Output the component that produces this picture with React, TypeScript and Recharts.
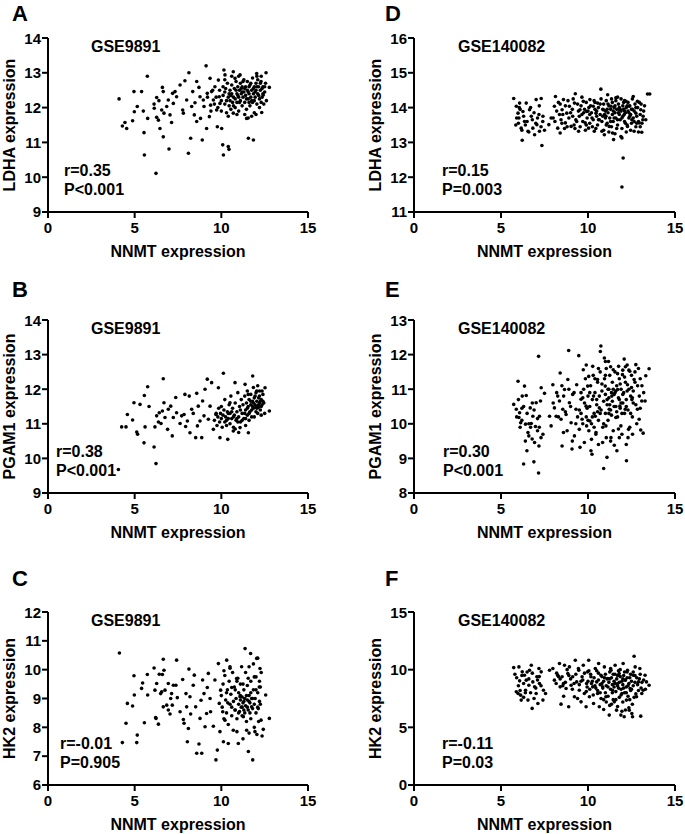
import { ScatterChart, Scatter, XAxis, YAxis } from 'recharts'

// NNMT (x) vs target gene (y)
const ldhaGSE9891: [number, number][] = [
  [4.1, 12.25], [4.29, 11.47], [4.44, 11.57], [4.54, 11.4], [4.88, 11.62], [4.96, 12.46], [4.98, 11.88], [5.15, 12.03],
  [5.4, 12.46], [5.54, 11.28], [5.56, 10.64], [5.5, 11.9], [5.73, 12.9], [5.75, 11.69], [6.12, 12.1], [6.13, 11.98],
  [6.23, 10.11], [6.27, 12.29], [6.27, 11.72], [6.4, 12.2], [6.37, 11.64], [6.46, 11.4], [6.6, 12.58], [6.65, 12.46],
  [6.65, 11.16], [6.69, 11.84], [6.56, 11.93], [6.85, 12.03], [6.94, 12.22], [6.98, 10.81], [7.04, 11.79], [7.13, 11.57],
  [7.19, 12.41], [7.23, 12.12], [7.33, 12.46], [7.42, 12.31], [7.62, 12.65], [7.77, 11.93], [7.81, 11.84], [7.9, 12.77],
  [8.0, 12.22], [8.1, 10.69], [8.13, 13.0], [8.23, 11.12], [8.29, 12.03], [8.35, 12.46], [8.44, 11.79], [8.48, 12.14],
  [8.58, 12.75], [8.58, 11.6], [8.71, 12.58], [8.77, 12.31], [8.8, 11.69], [8.9, 11.07], [8.96, 12.22], [9.0, 12.03],
  [9.12, 13.2], [9.15, 11.4], [9.19, 12.41], [9.31, 11.74], [9.35, 12.84], [9.38, 12.07], [9.44, 12.46], [9.54, 12.22],
  [9.63, 12.6], [9.73, 11.93], [9.77, 11.45], [9.83, 12.79], [9.88, 12.31], [9.92, 12.12], [10.02, 11.4], [10.08, 10.93],
  [10.12, 10.64], [10.15, 13.08], [10.21, 12.94], [10.4, 10.88], [10.44, 10.8], [10.69, 13.03], [10.69, 11.84],
  [10.79, 12.84], [11.08, 12.94], [11.46, 11.69], [11.56, 11.12], [11.85, 11.07], [12.04, 12.98], [12.33, 11.86],
  [12.58, 13.0], [12.77, 12.58], [12.42, 12.36], [12.29, 12.75],
  [9.6, 12.1], [9.7, 12.3], [9.8, 12.0], [9.9, 12.5], [10.0, 12.2], [10.0, 11.9], [10.1, 12.6], [10.1, 12.35],
  [10.2, 12.1], [10.2, 12.45], [10.3, 12.2], [10.3, 11.85], [10.35, 12.7], [10.4, 12.3], [10.45, 12.05], [10.5, 12.5],
  [10.5, 12.2], [10.55, 11.95], [10.6, 12.4], [10.6, 12.65], [10.65, 12.15], [10.7, 12.3], [10.75, 12.55], [10.8, 12.0],
  [10.8, 12.25], [10.85, 12.75], [10.9, 12.4], [10.9, 12.15], [10.95, 12.6], [11.0, 12.3], [11.0, 11.9], [11.05, 12.5],
  [11.1, 12.2], [11.1, 12.7], [11.15, 12.4], [11.2, 12.05], [11.2, 12.6], [11.25, 12.3], [11.3, 12.8], [11.3, 12.45],
  [11.35, 12.15], [11.4, 12.6], [11.4, 12.35], [11.45, 11.95], [11.5, 12.5], [11.5, 12.75], [11.55, 12.25], [11.6, 12.6],
  [11.6, 12.4], [11.65, 12.05], [11.7, 12.7], [11.7, 12.3], [11.75, 12.5], [11.8, 12.15], [11.8, 12.85], [11.85, 12.4],
  [11.9, 12.6], [11.9, 11.85], [11.95, 12.3], [12.0, 12.7], [12.0, 12.5], [12.05, 12.1], [12.1, 12.4], [12.1, 12.8],
  [12.15, 12.6], [12.2, 12.25], [12.2, 12.0], [12.25, 12.5], [12.3, 12.9], [12.35, 12.3], [12.4, 12.6], [12.45, 12.1],
  [12.5, 12.45], [12.55, 12.7], [12.6, 12.2], [11.55, 11.7], [11.75, 11.75], [10.4, 11.75], [10.9, 11.8], [11.35, 11.8],
  [12.0, 11.8], [10.2, 12.8], [10.6, 12.9], [11.0, 12.9],
  [10.25, 12.55], [10.45, 12.4], [10.7, 12.05], [10.95, 12.35], [11.05, 12.15], [11.2, 12.45], [11.35, 12.55],
  [11.45, 12.25], [11.55, 12.45], [11.65, 12.65], [11.75, 12.2], [11.85, 12.55], [11.95, 12.45], [12.05, 12.6],
  [12.15, 12.35], [12.25, 12.7], [12.3, 12.15], [12.4, 12.4], [12.5, 12.6], [11.25, 12.75], [11.9, 12.2], [12.05, 12.9],
  [10.55, 12.35], [10.85, 12.5], [11.15, 12.55], [11.6, 12.15], [12.35, 12.55], [9.5, 12.5], [9.4, 11.9], [9.2, 12.3],
]

const pgam1GSE9891: [number, number][] = [
  [4.06, 9.68], [4.25, 10.91], [4.5, 10.91], [4.58, 11.27], [4.88, 11.11], [4.96, 11.61], [5.12, 10.76], [5.17, 10.7],
  [5.31, 11.56], [5.54, 10.45], [5.56, 11.82], [5.6, 10.91], [5.75, 12.07], [5.83, 11.5], [6.12, 10.33], [6.17, 10.91],
  [6.23, 9.85], [6.27, 11.23], [6.37, 11.05], [6.42, 11.32], [6.52, 11.01], [6.6, 11.37], [6.65, 12.3], [6.69, 11.61],
  [6.75, 11.18], [6.9, 10.84], [6.94, 11.42], [7.08, 11.51], [7.17, 10.65], [7.23, 11.18], [7.37, 11.76], [7.42, 11.32],
  [7.62, 11.01], [7.71, 11.23], [7.85, 11.27], [7.9, 11.85], [7.94, 10.92], [8.04, 11.08], [8.15, 11.8], [8.19, 10.74],
  [8.29, 11.42], [8.38, 11.3], [8.52, 10.6], [8.58, 11.88], [8.62, 10.94], [8.67, 11.51], [8.77, 11.08], [8.87, 10.6],
  [8.92, 11.66], [9.0, 11.23], [9.06, 12.0], [9.19, 12.29], [9.25, 11.13], [9.35, 11.51], [9.44, 12.19], [9.54, 10.84],
  [9.69, 11.27], [9.83, 12.04], [9.92, 10.6], [10.12, 12.46], [10.37, 10.55], [10.5, 11.61], [10.69, 10.79],
  [10.79, 12.19], [11.08, 10.89], [11.37, 12.14], [11.56, 10.74], [11.81, 12.38], [12.04, 11.95], [12.13, 11.47],
  [12.52, 12.04], [12.77, 11.37],
  [9.6, 11.1], [9.7, 11.3], [9.75, 10.95], [9.8, 11.2], [9.85, 11.45], [9.9, 11.05], [9.95, 11.3], [10.0, 11.15],
  [10.0, 11.5], [10.05, 10.9], [10.1, 11.25], [10.15, 11.4], [10.2, 11.05], [10.2, 11.7], [10.25, 11.2], [10.3, 10.95],
  [10.35, 11.35], [10.4, 11.15], [10.45, 11.55], [10.5, 11.0], [10.5, 11.3], [10.55, 11.8], [10.6, 11.15], [10.65, 11.45],
  [10.7, 10.9], [10.75, 11.25], [10.8, 11.6], [10.85, 11.1], [10.9, 11.35], [10.95, 11.9], [11.0, 11.2], [11.05, 11.5],
  [11.1, 11.05], [11.15, 11.7], [11.2, 11.3], [11.25, 11.55], [11.3, 11.15], [11.35, 11.8], [11.4, 11.4], [11.45, 11.6],
  [11.5, 11.25], [11.5, 11.95], [11.55, 11.5], [11.6, 11.7], [11.65, 11.35], [11.7, 11.85], [11.7, 11.55], [11.75, 11.2],
  [11.8, 11.65], [11.85, 12.05], [11.85, 11.45], [11.9, 11.75], [11.95, 11.55], [12.0, 11.9], [12.0, 11.35], [12.05, 11.65],
  [12.1, 12.1], [12.1, 11.5], [12.15, 11.75], [12.2, 11.6], [12.2, 11.95], [12.25, 11.4], [12.3, 11.7], [12.35, 11.55],
  [12.4, 11.85], [12.45, 11.6], [12.5, 11.3], [11.6, 11.1], [11.9, 11.2], [12.3, 11.25], [10.8, 10.85], [11.4, 10.95],
  [11.0, 10.75],
  [10.3, 11.1], [10.6, 11.35], [10.9, 11.15], [11.1, 11.4], [11.2, 11.1], [11.35, 11.3], [11.5, 11.45], [11.6, 11.3],
  [11.7, 11.65], [11.75, 11.4], [11.85, 11.6], [11.95, 11.8], [12.0, 11.5], [12.05, 11.45], [12.15, 11.55], [12.2, 11.8],
  [12.25, 11.65], [12.3, 11.5], [12.4, 11.65], [12.1, 11.3], [11.4, 11.15], [10.7, 11.2], [10.4, 11.3], [10.95, 11.05],
  [11.8, 11.5], [12.35, 11.95], [11.55, 11.85],
]

const hk2GSE9891: [number, number][] = [
  [4.12, 10.58], [4.29, 7.47], [4.5, 8.14], [4.58, 8.83], [4.88, 8.74], [4.96, 9.79], [4.98, 9.12], [5.12, 7.47],
  [5.15, 7.73], [5.4, 9.35], [5.46, 9.54], [5.56, 8.16], [5.73, 9.83], [5.75, 9.12], [6.12, 10.06], [6.17, 9.29],
  [6.21, 8.34], [6.23, 8.31], [6.27, 9.52], [6.37, 8.11], [6.42, 9.84], [6.5, 9.17], [6.56, 9.23], [6.6, 9.83],
  [6.65, 10.36], [6.65, 8.71], [6.69, 9.98], [6.75, 9.29], [6.85, 8.77], [6.94, 8.6], [6.94, 9.52], [7.04, 8.46],
  [7.08, 9.0], [7.13, 9.17], [7.17, 8.77], [7.23, 9.46], [7.38, 9.46], [7.42, 10.33], [7.46, 9.03], [7.62, 8.54],
  [7.77, 9.66], [7.81, 8.27], [7.85, 8.14], [7.96, 9.17], [8.0, 8.71], [8.04, 7.5], [8.1, 7.96], [8.13, 10.02],
  [8.19, 9.06], [8.23, 8.46], [8.38, 9.46], [8.44, 9.81], [8.52, 8.71], [8.58, 7.1], [8.71, 7.42], [8.77, 8.31],
  [8.83, 8.94], [8.87, 7.1], [8.92, 9.64], [9.0, 9.17], [9.06, 8.02], [9.15, 8.48], [9.19, 9.38], [9.25, 9.87],
  [9.35, 9.0], [9.38, 8.54], [9.54, 8.04], [9.63, 9.64], [9.69, 6.87], [9.77, 7.21], [9.83, 10.21], [9.88, 8.83],
  [9.92, 7.85], [9.96, 9.29], [10.08, 8.54], [10.12, 7.5], [10.15, 9.96], [10.21, 8.25], [10.31, 10.33], [10.37, 8.85],
  [10.4, 7.44], [10.5, 10.1], [10.6, 9.38], [10.69, 7.9], [10.79, 8.6], [10.88, 9.69], [10.98, 7.44], [11.08, 9.06],
  [11.17, 10.1], [11.27, 8.37], [11.37, 10.73], [11.46, 7.9], [11.56, 7.16], [11.69, 10.56], [11.75, 8.71], [11.81, 6.87],
  [11.9, 9.75], [11.94, 7.85], [12.04, 10.39], [12.13, 8.65], [12.19, 9.4], [12.23, 10.04], [12.29, 8.25], [12.42, 7.93],
  [12.56, 9.12], [12.77, 8.31],
  [10.0, 9.1], [10.05, 8.7], [10.1, 9.5], [10.15, 8.3], [10.2, 9.8], [10.25, 8.95], [10.3, 8.5], [10.35, 9.3],
  [10.4, 8.1], [10.45, 9.6], [10.5, 8.8], [10.55, 9.15], [10.6, 8.4], [10.65, 9.9], [10.7, 8.9], [10.75, 9.4],
  [10.8, 8.6], [10.85, 9.0], [10.9, 8.3], [10.95, 9.7], [11.0, 8.8], [11.0, 9.2], [11.05, 8.55], [11.1, 8.95],
  [11.1, 9.5], [11.15, 8.7], [11.2, 9.05], [11.2, 8.4], [11.25, 8.85], [11.3, 9.3], [11.3, 8.6], [11.35, 9.0],
  [11.4, 8.75], [11.4, 9.9], [11.45, 8.2], [11.5, 8.95], [11.5, 9.45], [11.55, 8.6], [11.6, 9.1], [11.6, 7.8],
  [11.65, 8.85], [11.7, 9.6], [11.7, 8.3], [11.75, 9.0], [11.8, 8.65], [11.85, 10.2], [11.85, 9.3], [11.9, 8.0],
  [11.95, 9.0], [12.0, 8.5], [12.0, 9.75], [12.05, 7.75], [12.1, 9.2], [12.15, 8.2], [12.2, 9.6], [12.25, 8.8],
  [12.3, 9.9], [12.35, 7.7], [11.25, 7.6], [10.9, 7.85], [10.5, 10.05], [11.6, 10.1], [12.1, 10.4],
  [10.3, 9.2], [10.6, 8.7], [10.8, 9.3], [11.0, 8.5], [11.1, 9.1], [11.2, 8.7], [11.3, 8.9], [11.35, 8.5],
  [11.45, 9.1], [11.5, 8.7], [11.6, 8.9], [11.65, 8.5], [11.7, 9.2], [11.8, 9.0], [11.9, 8.8], [12.0, 9.3],
  [12.1, 8.7], [12.2, 8.9], [11.25, 9.5], [10.9, 9.6], [11.55, 9.7], [12.25, 9.4],
]

const ldhaGSE140082: [number, number][] = [
  [5.73, 14.26], [5.88, 14.04], [5.98, 13.84], [6.03, 13.7], [6.07, 14.13], [6.16, 13.41], [6.22, 13.06], [6.26, 13.89],
  [6.35, 13.6], [6.45, 14.13], [6.55, 13.32], [6.64, 13.94], [6.74, 13.75], [6.83, 13.41], [6.93, 13.22], [7.02, 14.23],
  [7.06, 13.51], [7.18, 13.8], [7.21, 13.32], [7.31, 14.26], [7.35, 12.91], [7.41, 13.75], [7.5, 13.35], [7.75, 13.51],
  [7.88, 13.7], [8.07, 14.04], [8.13, 14.32], [8.26, 13.41], [8.36, 13.8], [8.4, 13.27], [8.45, 13.65], [8.51, 13.94],
  [8.59, 14.23], [8.7, 13.56], [8.78, 13.84], [8.93, 14.04], [9.03, 13.46], [9.12, 13.75], [9.22, 14.13], [9.27, 14.4],
  [9.35, 13.6], [9.46, 13.32], [9.54, 13.94], [9.65, 13.8], [9.73, 14.18], [9.84, 13.56], [9.92, 13.89], [10.03, 13.41],
  [10.11, 14.23], [10.23, 13.7], [10.3, 14.04], [10.36, 13.32], [10.46, 13.84], [10.55, 14.13], [10.65, 13.65],
  [10.74, 14.53], [10.8, 13.32], [10.88, 13.94], [10.94, 13.22], [11.03, 13.75], [11.13, 14.37], [11.22, 13.46],
  [11.32, 14.04], [11.41, 13.27], [11.47, 13.08], [11.6, 14.28], [11.7, 13.65], [11.79, 13.94], [11.89, 13.17],
  [11.95, 13.13], [12.02, 12.55], [11.95, 11.72], [12.08, 13.8], [12.18, 14.18], [12.27, 13.46], [12.37, 14.04],
  [12.52, 13.65], [12.6, 14.32], [12.65, 13.32], [12.75, 13.84], [12.84, 14.18], [12.94, 13.56], [13.03, 13.94],
  [13.09, 13.29], [13.17, 13.75], [13.32, 13.65], [13.42, 14.39], [13.55, 14.39],
  [5.9, 13.7], [6.0, 13.55], [6.1, 13.95], [6.3, 13.75], [6.5, 13.6], [6.7, 14.0], [6.9, 13.85], [7.1, 13.7],
  [7.3, 13.45], [6.2, 13.35], [6.6, 13.3], [7.0, 13.55], [8.0, 13.7], [8.2, 13.9], [8.5, 13.55], [8.7, 14.05],
  [8.9, 13.7], [9.1, 13.95], [9.3, 13.65], [9.4, 14.1], [8.4, 14.1], [8.8, 13.45], [9.2, 13.5],
  [9.5, 13.75], [9.6, 14.05], [9.7, 13.6], [9.8, 13.95], [9.9, 14.15], [9.95, 13.7], [10.0, 13.9], [10.1, 13.55],
  [10.15, 14.05], [10.2, 13.85], [10.3, 13.65], [10.35, 14.2], [10.4, 13.95], [10.5, 13.75], [10.55, 13.5], [10.6, 14.0],
  [10.7, 13.8], [10.75, 14.25], [10.8, 13.6], [10.85, 13.95], [10.9, 14.1], [11.0, 13.7], [11.0, 13.9], [11.05, 14.2],
  [11.1, 13.55], [11.15, 13.85], [11.2, 14.05], [11.25, 13.7], [11.3, 13.95], [11.35, 13.45], [11.4, 14.15], [11.4, 13.8],
  [11.45, 13.6], [11.5, 14.0], [11.55, 13.85], [11.6, 14.2], [11.6, 13.7], [11.65, 13.95], [11.7, 13.5], [11.75, 14.1],
  [11.8, 13.8], [11.8, 14.0], [11.85, 13.65], [11.9, 14.25], [11.9, 13.9], [11.95, 13.4], [12.0, 14.05], [12.0, 13.75],
  [12.05, 13.95], [12.1, 13.6], [12.1, 14.2], [12.15, 13.85], [12.2, 14.0], [12.25, 13.5], [12.3, 13.9], [12.3, 14.15],
  [12.35, 13.7], [12.4, 14.05], [12.45, 13.8], [12.5, 13.95], [12.5, 13.55], [12.55, 14.25], [12.6, 13.7], [12.65, 13.9],
  [12.7, 14.1], [12.75, 13.45], [12.8, 13.75], [12.85, 14.0], [12.9, 13.6], [13.0, 13.8], [13.05, 14.1], [13.1, 13.55],
  [13.2, 13.9], [11.2, 13.3], [10.9, 13.35], [12.2, 13.3], [10.45, 13.4], [9.85, 13.35], [11.55, 13.25], [12.9, 13.3],
  [8.1, 13.6], [8.3, 14.15], [8.55, 13.8], [8.65, 13.4], [8.85, 14.2], [9.0, 13.85], [9.15, 14.25], [9.25, 13.4],
  [9.45, 13.9], [9.55, 13.45], [9.65, 14.3], [9.75, 13.85], [9.9, 13.5], [10.05, 14.0], [10.1, 13.8], [10.25, 13.45],
  [10.4, 14.15], [10.5, 13.9], [10.6, 13.65], [10.7, 14.1], [10.95, 13.8], [11.05, 13.5], [11.15, 14.1], [11.3, 13.6],
  [11.35, 14.25], [11.45, 13.9], [11.5, 13.7], [11.65, 13.4], [11.7, 14.3], [11.85, 13.95], [11.95, 13.7], [12.05, 14.15],
  [12.15, 13.55], [12.25, 14.05], [12.35, 13.85], [12.45, 13.35], [12.55, 13.95], [12.65, 13.6], [12.75, 14.0],
  [12.8, 13.55], [12.95, 14.15], [13.0, 13.45], [13.15, 13.65], [13.25, 14.05], [11.1, 13.95], [11.75, 13.85],
  [12.4, 13.75], [10.85, 13.75], [11.55, 14.05], [12.1, 13.9], [6.05, 14.0], [6.4, 13.5], [6.8, 13.65], [7.2, 14.05],
  [7.4, 13.6], [5.85, 13.5],
]

const pgam1GSE140082: [number, number][] = [
  [5.73, 10.56], [5.88, 10.42], [5.98, 11.23], [6.03, 10.18], [6.07, 10.32], [6.13, 10.03], [6.22, 10.8], [6.3, 8.84],
  [6.35, 11.09], [6.41, 9.99], [6.45, 10.82], [6.49, 9.22], [6.55, 9.75], [6.6, 9.65], [6.68, 10.46], [6.74, 10.01],
  [6.79, 9.56], [6.83, 10.22], [6.89, 8.9], [6.93, 9.46], [6.98, 9.92], [7.02, 10.61], [7.1, 9.8], [7.16, 11.95],
  [7.16, 8.58], [7.18, 9.36], [7.21, 10.22], [7.27, 10.66], [7.31, 11.04], [7.41, 9.7], [7.5, 10.88], [7.79, 10.22],
  [7.88, 9.94], [7.98, 11.13], [8.07, 10.46], [8.17, 10.22], [8.26, 10.8], [8.36, 10.66], [8.4, 11.47], [8.45, 10.13],
  [8.51, 9.36], [8.55, 10.42], [8.59, 9.75], [8.65, 10.99], [8.74, 10.27], [8.84, 11.28], [8.89, 12.12], [8.93, 10.61],
  [9.03, 10.03], [9.08, 9.27], [9.12, 10.85], [9.22, 9.65], [9.31, 10.42], [9.35, 11.13], [9.47, 11.97], [9.5, 9.84],
  [9.54, 9.32], [9.6, 10.71], [9.66, 10.13], [9.73, 11.56], [9.79, 9.46], [9.89, 10.51], [9.92, 9.94], [9.98, 11.09],
  [10.04, 11.37], [10.11, 10.08], [10.17, 9.22], [10.23, 9.12], [10.27, 11.66], [10.32, 10.8], [10.42, 10.22],
  [10.46, 9.75], [10.55, 11.28], [10.65, 10.46], [10.71, 12.09], [10.74, 12.25], [10.84, 9.46], [10.9, 8.71],
  [10.94, 11.9], [10.99, 11.09], [11.03, 9.94], [11.09, 9.03], [11.18, 11.8], [11.22, 10.42], [11.32, 9.6], [11.37, 10.8],
  [11.45, 11.56], [11.51, 9.38], [11.6, 10.18], [11.66, 9.22], [11.7, 10.99], [11.76, 11.66], [11.83, 10.51],
  [11.89, 9.94], [11.98, 11.42], [12.08, 11.87], [12.14, 10.42], [12.21, 8.93], [12.27, 11.13], [12.33, 9.84],
  [12.4, 11.52], [12.52, 10.7], [12.56, 9.7], [12.65, 11.28], [12.75, 11.71], [12.84, 10.42], [12.94, 10.13],
  [13.03, 9.82], [13.09, 10.66], [13.17, 9.73], [13.28, 10.66], [13.32, 11.39], [13.51, 11.59],
  [5.9, 10.2], [6.0, 10.7], [6.2, 10.1], [6.3, 10.5], [6.5, 10.3], [6.7, 9.9], [6.9, 10.4], [7.1, 10.15], [7.3, 9.6],
  [6.4, 9.5], [6.1, 9.9], [8.0, 10.6], [8.3, 10.2], [8.6, 10.8], [8.8, 9.8], [9.0, 10.5], [9.2, 10.9], [9.4, 10.2],
  [8.5, 11.1], [9.1, 9.5],
  [9.5, 10.4], [9.6, 10.9], [9.7, 10.0], [9.8, 10.6], [9.85, 11.3], [9.9, 10.2], [10.0, 10.8], [10.05, 9.8],
  [10.1, 10.5], [10.15, 11.1], [10.2, 10.0], [10.25, 10.7], [10.3, 11.4], [10.35, 10.3], [10.4, 10.9], [10.45, 9.7],
  [10.5, 10.55], [10.55, 11.2], [10.6, 10.1], [10.65, 10.8], [10.7, 11.5], [10.75, 10.4], [10.8, 10.95], [10.85, 9.9],
  [10.9, 10.65], [10.95, 11.3], [11.0, 10.3], [11.0, 10.85], [11.05, 11.6], [11.1, 10.55], [11.15, 10.1], [11.2, 11.0],
  [11.2, 10.75], [11.25, 11.4], [11.3, 10.4], [11.35, 10.9], [11.4, 10.65], [11.4, 11.2], [11.45, 9.8], [11.5, 10.85],
  [11.55, 11.5], [11.6, 10.5], [11.6, 10.95], [11.65, 11.1], [11.7, 10.2], [11.75, 10.75], [11.8, 11.3], [11.85, 10.45],
  [11.9, 11.0], [11.95, 9.7], [12.0, 10.6], [12.0, 11.55], [12.05, 10.9], [12.1, 10.3], [12.15, 11.2], [12.2, 10.7],
  [12.25, 11.7], [12.3, 10.4], [12.35, 11.0], [12.4, 9.9], [12.45, 10.8], [12.5, 11.4], [12.55, 10.2], [12.6, 10.95],
  [12.7, 11.5], [12.75, 10.55], [12.85, 11.1], [12.95, 10.8], [13.0, 11.3], [11.3, 9.5], [10.6, 9.4], [12.2, 9.4],
  [11.8, 9.6], [10.2, 9.55], [9.9, 11.7], [11.0, 11.8],
  [9.6, 10.3], [9.75, 11.0], [9.95, 10.45], [10.1, 10.9], [10.25, 10.2], [10.4, 11.3], [10.5, 10.7], [10.6, 11.6],
  [10.7, 10.3], [10.8, 11.15], [10.9, 10.0], [11.0, 11.4], [11.1, 10.7], [11.15, 11.0], [11.25, 10.55], [11.3, 11.65],
  [11.35, 10.25], [11.45, 11.0], [11.5, 10.5], [11.55, 10.9], [11.65, 10.35], [11.7, 11.45], [11.8, 10.7], [11.85, 11.15],
  [11.95, 10.3], [12.0, 10.85], [12.1, 11.35], [12.2, 10.5], [12.25, 10.95], [12.35, 11.55], [12.45, 10.3], [12.5, 11.05],
  [12.6, 10.6], [12.7, 11.2], [12.8, 10.0], [12.9, 11.6], [13.0, 10.45], [13.1, 11.1], [13.2, 10.9], [10.35, 9.9],
  [11.05, 9.6], [11.75, 9.85], [12.3, 9.6], [10.0, 10.1], [9.7, 10.75], [10.55, 10.35], [11.2, 10.3], [11.9, 10.6],
  [12.55, 10.75], [12.15, 11.65], [8.2, 10.9], [8.7, 10.35], [9.3, 10.0], [8.9, 11.0], [6.2, 10.45], [6.6, 10.0],
  [6.8, 10.6], [7.2, 9.9],
]

const hk2GSE140082: [number, number][] = [
  [5.73, 10.18], [5.88, 8.08], [5.98, 7.93], [6.03, 10.24], [6.07, 9.03], [6.13, 7.79], [6.16, 7.36], [6.22, 9.81],
  [6.3, 8.8], [6.35, 9.52], [6.41, 8.22], [6.45, 9.09], [6.55, 7.36], [6.6, 8.65], [6.64, 9.95], [6.74, 10.38],
  [6.79, 6.64], [6.83, 8.94], [6.93, 8.51], [7.02, 7.93], [7.06, 9.38], [7.12, 7.07], [7.18, 10.1], [7.21, 8.8],
  [7.31, 9.81], [7.41, 7.36], [7.44, 8.22], [7.56, 7.93], [7.79, 9.95], [7.98, 10.1], [8.07, 9.09], [8.17, 8.8],
  [8.26, 9.52], [8.36, 10.53], [8.4, 8.51], [8.45, 7.01], [8.51, 9.38], [8.59, 8.8], [8.65, 10.38], [8.74, 8.37],
  [8.84, 9.66], [8.89, 6.78], [8.93, 10.24], [9.03, 8.65], [9.12, 9.38], [9.22, 7.65], [9.27, 10.82], [9.35, 8.94],
  [9.47, 9.95], [9.5, 8.22], [9.6, 7.21], [9.66, 9.38], [9.73, 10.38], [9.79, 7.93], [9.89, 6.78], [9.92, 8.8],
  [9.98, 9.81], [10.04, 10.82], [10.08, 7.65], [10.17, 9.38], [10.27, 8.51], [10.32, 7.07], [10.42, 10.1], [10.5, 8.94],
  [10.55, 7.93], [10.61, 10.53], [10.65, 6.78], [10.74, 9.52], [10.84, 8.51], [10.9, 6.55], [10.94, 10.24], [11.03, 7.65],
  [11.13, 9.23], [11.22, 6.06], [11.32, 9.95], [11.41, 8.22], [11.51, 7.21], [11.56, 10.38], [11.64, 6.49], [11.7, 8.8],
  [11.79, 9.66], [11.89, 6.06], [11.95, 7.93], [12.02, 10.53], [12.08, 5.92], [12.14, 9.09], [12.21, 7.36], [12.27, 9.95],
  [12.37, 6.49], [12.42, 8.37], [12.52, 6.2], [12.56, 5.92], [12.6, 9.52], [12.65, 11.16], [12.71, 10.24], [12.79, 7.65],
  [12.9, 8.94], [12.98, 10.1], [13.03, 5.97], [13.09, 7.93], [13.17, 8.22], [13.28, 9.52], [13.36, 8.94], [13.51, 8.65],
  [5.9, 9.3], [6.0, 8.6], [6.2, 9.5], [6.4, 8.0], [6.6, 9.2], [6.8, 9.7], [7.0, 8.4], [7.2, 9.4], [6.3, 7.6], [6.9, 7.5],
  [8.2, 9.7], [8.4, 9.2], [8.7, 8.9], [8.9, 9.5], [9.1, 8.3], [9.3, 9.6], [9.5, 8.7], [9.7, 9.1], [9.9, 8.1], [8.6, 7.7],
  [9.4, 7.5],
  [10.0, 9.0], [10.1, 8.3], [10.15, 9.6], [10.2, 8.8], [10.3, 7.8], [10.35, 9.3], [10.4, 8.6], [10.5, 9.9], [10.55, 8.2],
  [10.6, 9.1], [10.7, 8.7], [10.75, 7.5], [10.8, 9.4], [10.85, 8.4], [10.9, 9.0], [11.0, 8.0], [11.0, 9.6], [11.05, 8.6],
  [11.1, 9.2], [11.15, 7.7], [11.2, 8.9], [11.25, 9.8], [11.3, 8.3], [11.35, 9.3], [11.4, 8.7], [11.45, 7.4], [11.5, 9.0],
  [11.5, 8.5], [11.55, 9.6], [11.6, 8.1], [11.65, 9.2], [11.7, 8.6], [11.75, 9.9], [11.8, 8.9], [11.8, 7.6], [11.85, 9.4],
  [11.9, 8.3], [11.95, 9.0], [12.0, 8.7], [12.0, 7.2], [12.05, 9.5], [12.1, 8.0], [12.15, 9.1], [12.2, 8.5], [12.25, 9.8],
  [12.3, 7.7], [12.35, 8.8], [12.4, 9.3], [12.45, 8.2], [12.5, 9.0], [12.55, 7.0], [12.6, 8.6], [12.7, 9.5], [12.75, 7.9],
  [12.85, 8.7], [12.95, 9.2], [13.05, 8.4], [11.25, 6.9], [11.7, 6.8], [12.15, 6.5],
  [8.3, 9.4], [8.55, 8.6], [8.8, 10.0], [9.0, 9.2], [9.2, 8.8], [9.45, 10.1], [9.6, 9.0], [9.8, 9.7], [9.95, 8.5],
  [10.05, 9.9], [10.25, 9.0], [10.45, 8.4], [10.6, 9.7], [10.7, 8.0], [10.8, 8.8], [10.95, 9.3], [11.05, 7.2],
  [11.15, 8.5], [11.25, 9.2], [11.3, 10.1], [11.4, 8.0], [11.45, 9.6], [11.55, 8.8], [11.6, 7.4], [11.7, 9.5],
  [11.75, 8.4], [11.85, 10.0], [11.9, 7.8], [12.0, 9.2], [12.05, 8.4], [12.1, 9.8], [12.2, 8.0], [12.25, 9.3],
  [12.3, 8.6], [12.4, 7.4], [12.45, 9.6], [12.5, 8.3], [12.6, 9.8], [12.65, 7.6], [12.7, 8.9], [12.8, 9.3], [12.9, 8.2],
  [13.0, 9.6], [13.1, 8.9], [13.2, 9.1], [13.3, 8.3], [11.35, 7.0], [11.95, 6.4], [12.35, 6.7], [10.9, 7.4], [6.1, 8.2],
  [6.5, 9.8], [6.7, 8.0], [7.1, 9.1], [7.3, 8.6], [5.8, 9.6],
]

const xTicks = [0, 5, 10, 15]

const panels = [
  { letter: 'A', title: 'GSE9891', yLabel: 'LDHA expression', r: 'r=0.35', p: 'P<0.001', data: ldhaGSE9891, yDomain: [9, 14], yTicks: [9, 10, 11, 12, 13, 14], col: 0, row: 0, statX: 64 },
  { letter: 'B', title: 'GSE9891', yLabel: 'PGAM1 expression', r: 'r=0.38', p: 'P<0.001', data: pgam1GSE9891, yDomain: [9, 14], yTicks: [9, 10, 11, 12, 13, 14], col: 0, row: 1, statX: 56 },
  { letter: 'C', title: 'GSE9891', yLabel: 'HK2 expression', r: 'r=-0.01', p: 'P=0.905', data: hk2GSE9891, yDomain: [6, 12], yTicks: [6, 7, 8, 9, 10, 11, 12], col: 0, row: 2, statX: 60 },
  { letter: 'D', title: 'GSE140082', yLabel: 'LDHA expression', r: 'r=0.15', p: 'P=0.003', data: ldhaGSE140082, yDomain: [11, 16], yTicks: [11, 12, 13, 14, 15, 16], col: 1, row: 0, statX: 442 },
  { letter: 'E', title: 'GSE140082', yLabel: 'PGAM1 expression', r: 'r=0.30', p: 'P<0.001', data: pgam1GSE140082, yDomain: [8, 13], yTicks: [8, 9, 10, 11, 12, 13], col: 1, row: 1, statX: 443 },
  { letter: 'F', title: 'GSE140082', yLabel: 'HK2 expression', r: 'r=-0.11', p: 'P=0.03', data: hk2GSE140082, yDomain: [0, 15], yTicks: [0, 5, 10, 15], col: 1, row: 2, statX: 442 },
]

const colLeft = [48, 414]
const colWidth = [260, 261]
const rowTop = [38, 320, 612]
const rowHeight = [174, 173, 173]
const letterX = [12, 385]
const letterBase = [21, 297, 586]
const titleX = [91, 458]

const FONT = '"Liberation Sans", Arial, sans-serif'
const axisStyle = { stroke: '#000', strokeWidth: 2 }
const tickStyle = { fill: '#000', fontSize: 15, fontWeight: 'bold', fontFamily: FONT }

const Dot = (props: any) => <circle cx={props.cx} cy={props.cy} r={1.8} fill="#000" />

function Panel({ cfg }: { cfg: (typeof panels)[number] }) {
  const pw = colWidth[cfg.col]
  const ph = rowHeight[cfg.row]
  const data = cfg.data.map(([x, y]) => ({ x, y }))
  return (
    <div style={{ position: 'absolute', left: colLeft[cfg.col] - 48, top: rowTop[cfg.row] - 8 }}>
      <ScatterChart width={48 + pw + 14} height={8 + ph + 40} margin={{ top: 8, right: 14, bottom: 0, left: 0 }}>
        <XAxis
          type="number"
          dataKey="x"
          domain={[0, 15]}
          ticks={xTicks}
          height={40}
          axisLine={axisStyle}
          tickLine={axisStyle}
          tickSize={6}
          tickMargin={4}
          tick={tickStyle}
        />
        <YAxis
          type="number"
          dataKey="y"
          domain={cfg.yDomain}
          ticks={cfg.yTicks}
          width={48}
          axisLine={axisStyle}
          tickLine={axisStyle}
          tickSize={6}
          tickMargin={1}
          tick={tickStyle}
        />
        <Scatter data={data} isAnimationActive={false} shape={Dot} />
      </ScatterChart>
    </div>
  )
}

export default function App() {
  return (
    <div style={{ position: 'absolute', left: 0, top: 0, width: 685, height: 834, overflow: 'hidden', background: '#fff' }}>
      {panels.map((cfg) => (
        <Panel key={cfg.letter} cfg={cfg} />
      ))}
      <svg width={685} height={834} style={{ position: 'absolute', left: 0, top: 0, pointerEvents: 'none' }} fontFamily={FONT} fontWeight="bold" fill="#000">
        {panels.map((cfg) => {
          const left = colLeft[cfg.col]
          const top = rowTop[cfg.row]
          const bottom = top + rowHeight[cfg.row]
          const midX = left + colWidth[cfg.col] / 2
          const midY = top + rowHeight[cfg.row] / 2
          return (
            <g key={cfg.letter}>
              <text x={letterX[cfg.col]} y={letterBase[cfg.row]} fontSize={22}>{cfg.letter}</text>
              <text x={titleX[cfg.col]} y={top + 8} fontSize={16} dominantBaseline="central">{cfg.title}</text>
              <text x={cfg.statX} y={bottom - 42} fontSize={16} dominantBaseline="central">{cfg.r}</text>
              <text x={cfg.statX} y={bottom - 23} fontSize={16} dominantBaseline="central">{cfg.p}</text>
              <text x={midX} y={bottom + 39} fontSize={16} textAnchor="middle" dominantBaseline="central">NNMT expression</text>
              <text
                transform={`translate(${left - 39}, ${midY}) rotate(-90)`}
                fontSize={16}
                textAnchor="middle"
                dominantBaseline="central"
              >
                {cfg.yLabel}
              </text>
            </g>
          )
        })}
      </svg>
    </div>
  )
}
